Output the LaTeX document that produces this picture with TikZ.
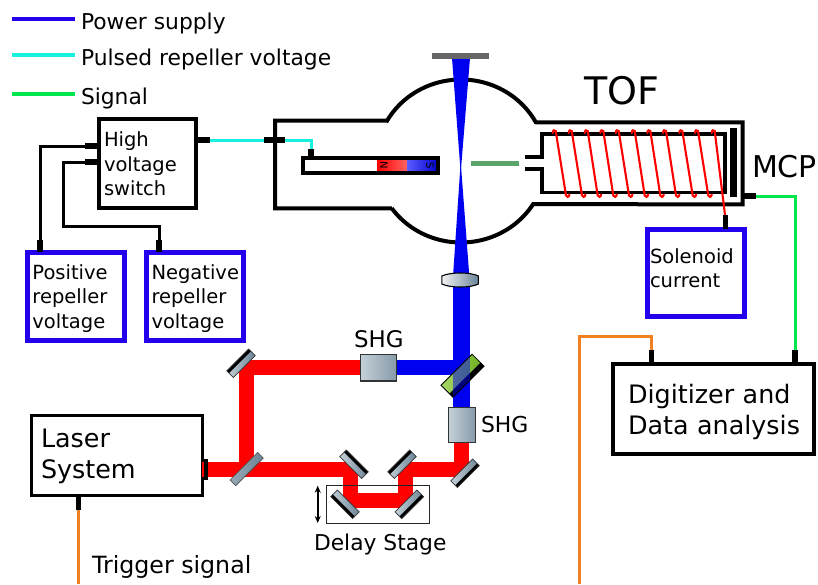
\documentclass[tikz,border=0pt]{standalone}
\usepackage{fontspec}
\setmainfont{DejaVu Sans}
\usetikzlibrary{calc,arrows.meta}
\definecolor{psblue}{HTML}{2200EE}
\definecolor{pulsecyan}{HTML}{19EFE0}
\definecolor{siggreen}{HTML}{00E64D}
\definecolor{trigorange}{HTML}{F08020}
\definecolor{beamred}{HTML}{FF0000}
\definecolor{beamblue}{HTML}{0000F0}
\definecolor{steelL}{HTML}{F0F4F6}
\definecolor{steelM}{HTML}{C4D0D8}
\definecolor{steelD}{HTML}{6C8496}
\definecolor{samplegreen}{HTML}{5AA469}
\definecolor{dichL}{HTML}{A8D868}
\definecolor{dichD}{HTML}{70B020}
\newcommand{\mirrorshape}[3]{%
  \begin{scope}[shift={(#1)},rotate=#2]
    \shade[left color=steelM,middle color=steelL,right color=steelD] (-15.5,-4.7) rectangle (15.5,4.7);
    \fill[black] (-15.5,{#3*1.6}) rectangle (15.5,{#3*4.7});
    \draw[black!80,line width=.7pt] (-15.5,-4.7) rectangle (15.5,4.7);
  \end{scope}}
\newcommand{\boxlines}[2]{\raisebox{#1pt}[0pt][0pt]{\begin{tabular}[t]{@{}l@{}}#2\end{tabular}}}
\tikzset{
  boxnode/.style={draw,rectangle,outer sep=0pt,inner ysep=0pt,align=left,anchor=center,font=\fontsize{19.5}{24.4}\selectfont},
  hvbox/.style={boxnode,line width=4pt},
  psbox/.style={boxnode,draw=psblue,line width=5pt},
  plainbox/.style={boxnode,line width=3.4pt},
  lab/.style={anchor=base west,inner sep=0pt,outer sep=0pt},
  leg/.style={lab,font=\fontsize{21.8}{26}\selectfont},
  stub/.style={line width=6pt,black},
  wire/.style={line width=3pt,black,line join=miter},
  pulse/.style={line width=3pt,pulsecyan},
  sig/.style={line width=3pt,siggreen},
  trig/.style={line width=3pt,trigorange},
  redbeam/.style={line width=15pt,beamred,line join=miter},
  bluebeam/.style={line width=16.5pt,beamblue,line join=miter},
  coil/.style={line width=2.1pt,red,line cap=round},
  wall/.style={line width=4pt,black,line join=miter},
  tube/.style={line width=3.7pt,black,line join=miter},
  crystal/.style={draw=black!80,line width=1.4pt,left color=steelM,right color=steelD!80!steelL,outer sep=0pt,inner sep=0pt}
}
\begin{document}
\begin{tikzpicture}[x=1pt,y=-1pt]
\useasboundingbox (0,0) rectangle (818,584);
% legend
\coordinate (l1a) at (12,18.5); \coordinate (l1b) at (75,18.5);
\coordinate (l2a) at (12,54.5); \coordinate (l2b) at (75,54.5);
\coordinate (l3a) at (12,93.5); \coordinate (l3b) at (75,93.5);
\draw[line width=4pt,psblue] (l1a) -- (l1b);
\draw[line width=4pt,pulsecyan] (l2a) -- (l2b);
\draw[line width=4pt,siggreen] (l3a) -- (l3b);
\node[leg] (tpower) at (81,29) {Power supply};
\node[leg] (tpulse) at (81,65) {Pulsed repeller voltage};
\node[leg] (tsignal) at (81,104) {Signal};
% boxes
\node[hvbox,minimum width=97pt,minimum height=89pt,inner xsep=5pt,text width=87pt] (hv) at (147.5,163.5) {\boxlines{16.8}{High\\voltage\\switch}};
\node[psbox,minimum width=97.5pt,minimum height=88pt,inner xsep=5pt,text width=87.5pt] (pos) at (76.2,296) {\boxlines{16.7}{Positive\\repeller\\voltage}};
\node[psbox,minimum width=97pt,minimum height=88pt,inner xsep=5pt,text width=87pt] (neg) at (195,296) {\boxlines{16.7}{Negative\\repeller\\voltage}};
\node[psbox,minimum width=97pt,minimum height=87pt,inner xsep=3pt,text width=91pt] (sol) at (695.5,272.5) {\boxlines{9}{Solenoid\\current}};
\node[plainbox,minimum width=201pt,minimum height=90pt,inner xsep=15pt,text width=171pt,font=\fontsize{25.4}{31}\selectfont] (dig) at (713.5,409) {\boxlines{6}{Digitizer and\\Data analysis}};
\node[plainbox,line width=3pt,minimum width=171pt,minimum height=79.5pt,inner xsep=10pt,text width=151pt,font=\fontsize{25.4}{31}\selectfont] (laser) at (116.5,455.5) {\boxlines{8.5}{Laser\\System}};
% connectors left
\coordinate (sw1) at (85,146); \coordinate (sw2) at (85,162);
\coordinate (p1) at (40,240); \coordinate (n1) at (159,240);
\coordinate (hvr) at (210,140);
\draw[stub] (sw1) -- (hv.west |- sw1);
\draw[stub] (sw2) -- (hv.west |- sw2);
\draw[wire] (sw1) -| (p1);
\draw[wire] (sw2) -- (63.5,162) -- (63.5,226) -| (n1);
\draw[stub] (p1) -- (p1 |- pos.north);
\draw[stub] (n1) -- (n1 |- neg.north);
\draw[stub] (hv.east |- hvr) -- (hvr);
% chamber
\coordinate (fl1) at (264,140); \coordinate (fl2) at (285,140); \coordinate (rep) at (311,149);
\draw[pulse,line join=miter] (hvr) -- (fl2) -| (rep);
% blue beam
\coordinate (bc) at (461.5,367.7);
\draw[wall] (386.9,120.7) -- (275,120.7) -- (275,208.3) -- (392,208.3)
  -- plot[domain=144.5:32,samples=50] ({461+85*cos(\x)},{161+81.5*sin(\x)})
  -- (742.5,204.3) -- (742.5,122.3) -- (536,122.3)
  -- plot[domain=331.6:209.6,samples=50] ({461+85*cos(\x)},{161+81.5*sin(\x)}) -- cycle;
\fill[beamblue] (452,58) -- (470,58) -- (461,169) -- (460.4,169) -- cycle;
\fill[beamblue] (452.7,281) -- (469.7,281) -- (461,166) -- (460.4,166) -- cycle;
\draw[stub] (fl1) -- (fl2);
\draw[stub] (rep) -- (311,157);
% repeller
\fill[white] (303,158) rectangle (438,173);
\shade[left color=red,right color=red!60!white] (377.3,158) rectangle (407.7,173);
\shade[left color=blue!65!white,right color=blue!80!black] (407.7,158) rectangle (438,173);
\draw[tube] (303,158) rectangle (438,173);
\node[rotate=-90,inner sep=0pt,font=\fontsize{10}{10}\selectfont] (nn) at (384,165.5) {N};
\node[rotate=-90,inner sep=0pt,font=\fontsize{10}{10}\selectfont] (ss) at (430,165.5) {S};
% target
\fill[black!60] (431.7,53) rectangle (489,59);
\draw[line width=4.5pt,samplegreen] (471,163.7) -- (518.7,163.7);
% TOF tube
\draw[tube] (525,157.3) -- (542.3,157.3) -- (542.3,134) -- (725,134) -- (725,192.5) -- (542.3,192.5) -- (542.3,169) -- (525,169);
\fill[black] (730.2,127.7) rectangle (737.2,197.3);
\foreach \a/\b in {555.7/566,571.7/582,587.7/597.7,603.3/613.3,618.7/629,634.7/644.7,650.3/660.3,666/676,682.3/692.7,698/708.3}{
  \draw[coil] ({\a-3},133) .. controls ({\a-3},130) and ({\a-1},129.5) .. (\a,131) -- (\b,195.5) .. controls ({\b+.5},197.5) and ({\b+3},197.5) .. ({\b+3.5},194.5);
}
\coordinate (coilend) at (725,215);
\draw[coil] (711.7,133) .. controls (711.7,130) and (713.7,129.5) .. (714.7,131) -- (coilend);
\draw[stub,line width=5pt] (coilend) -- (coilend |- sol.north);
% MCP signal
\coordinate (mcpa) at (744,196); \coordinate (mcpb) at (756,196); \coordinate (digt) at (795,350);
\draw[stub] (mcpa) -- (mcpb);
\draw[sig,line join=miter] (mcpb) -| (digt);
\draw[stub] (digt) -- (digt |- dig.north);
\coordinate (orgb) at (651,350); \coordinate (orgc) at (579,584);
\draw[trig,line join=miter] (orgb) |- (579,336) -- (orgc);
\draw[stub,line width=5pt] (orgb) -- (orgb |- dig.north);
\coordinate (las) at (78,510); \coordinate (lasb) at (78,584);
\draw[stub,line width=5pt] (laser.south -| las) -- (las);
\draw[trig] (las) -- (lasb);
% beams
\coordinate (m2) at (246.7,469); \coordinate (m1) at (246.7,367.7);
\coordinate (shgaW) at (360.7,367.7); \coordinate (shgaE) at (396.7,367.7);
\coordinate (shgbS) at (461.5,442); \coordinate (shgbN) at (461.5,407.3);
\draw[redbeam] (laser.east |- m2) -- (350,469) -- (350,500) -- (405.5,500) -- (405.5,469) -- (461.5,469) -- (shgbS);
\draw[redbeam] (m2) -- (m1) -- (shgaW);
\draw[bluebeam,line width=15pt] (shgaE) -- (bc);
\draw[bluebeam] (shgbN) -- (bc) -- (bc |- 0,280);
\node[crystal,minimum width=36pt,minimum height=26.5pt] (shga) at (378.7,367.7) {};
\node[crystal,minimum width=27pt,minimum height=35pt] (shgb) at (461.8,424.8) {};
\fill[black] (204,459) rectangle (207.5,480);
% lens
\shade[left color=white!90!steelD,right color=steelD,draw=black,line width=1.1pt] (441.8,276) .. controls (450,272) and (471,272) .. (478.3,276) -- (478.3,284) .. controls (471,288) and (450,288) .. (441.8,284) -- cycle;
% dichroic
\coordinate (dc) at (462.5,375.7);
\coordinate (ovA) at (452.9,340); \coordinate (ovB) at (470,340);
\coordinate (ovC) at (470,410); \coordinate (ovD) at (452.9,410);
\begin{scope}[shift={(dc)},rotate=45]
  \shade[left color=dichL,right color=dichD] (-22,-8.5) rectangle (22,3.5);
  \fill[black] (-22,3.5) rectangle (22,8.5);
  \begin{scope}
    \clip (-22,-8.5) rectangle (22,8.5);
    \fill[beamblue,opacity=.5] (ovA) -- (ovB) -- (ovC) -- (ovD) -- cycle;
  \end{scope}
  \draw[black,line width=.8pt] (-22,-8.5) rectangle (22,8.5);
\end{scope}
% mirrors
\mirrorshape{241,363.3}{45}{-1}
\mirrorshape{354,464.3}{-45}{-1}
\mirrorshape{402,464.3}{45}{-1}
\mirrorshape{465,473.3}{45}{1}
\mirrorshape{345,504.3}{-45}{1}
\mirrorshape{409.3,504.3}{45}{1}
\begin{scope}[shift={(m2)},rotate=45]
  \shade[left color=steelD!70!white,right color=steelD,draw=black!70,line width=.6pt] (-19.5,-4) rectangle (19.5,4);
\end{scope}
% delay stage
\draw[line width=1pt,black!85] (326,485.7) rectangle (429.3,523.5);
\coordinate (arrt) at (317.7,485.7); \coordinate (arrb) at (317.7,523);
\draw[line width=1.6pt,{Stealth[length=7pt,width=6pt]}-{Stealth[length=7pt,width=6pt]}] (arrt) -- (arrb);
% labels
\node[lab,font=\fontsize{38}{38}\selectfont] (ttof) at (584,104) {TOF};
\node[lab,font=\fontsize{30}{30}\selectfont] (tmcp) at (752,177) {MCP};
\node[lab,font=\fontsize{22.9}{22}\selectfont] (tshga) at (354,347) {SHG};
\node[lab,font=\fontsize{21.9}{22}\selectfont] (tshgb) at (481,432) {SHG};
\node[lab,font=\fontsize{21.8}{22}\selectfont] (tdelay) at (314,550) {Delay Stage};
\node[lab,font=\fontsize{23.7}{22}\selectfont] (ttrig) at (92,573) {Trigger signal};
\end{tikzpicture}
\end{document}
